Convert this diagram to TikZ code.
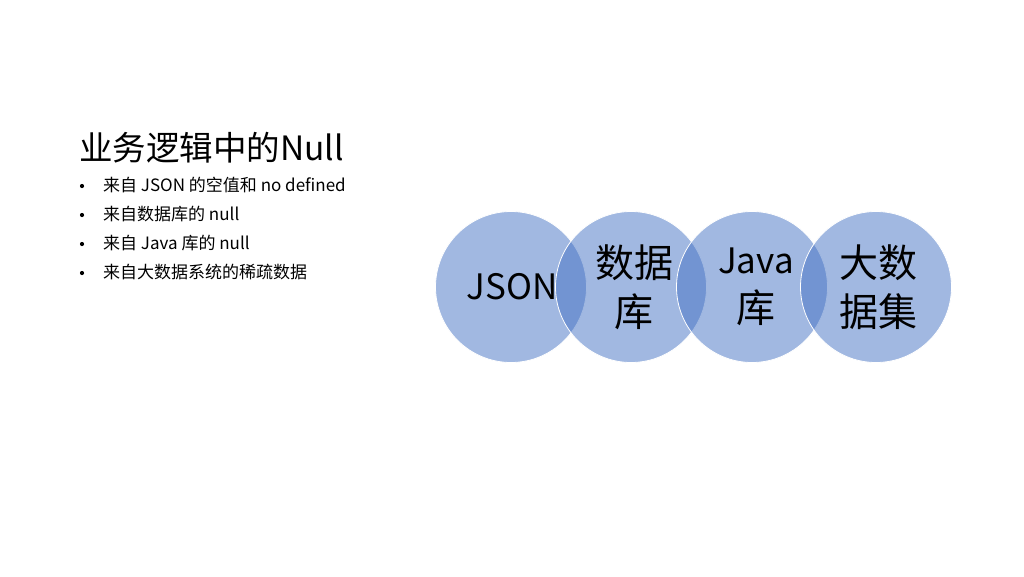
\documentclass[tikz,border=0pt]{standalone}
\usepackage{fontspec}
\setmainfont{Noto Sans CJK SC}
\newfontfamily\cjk{Noto Sans CJK SC}
\definecolor{circblue}{HTML}{4472C4}
\begin{document}
\begin{tikzpicture}[x=1pt,y=-1pt,
  bubble/.style={fill=circblue, fill opacity=0.5, draw=white, line width=0.8pt},
  ctext/.style={font=\fontsize{39}{49}\selectfont\cjk, align=center, text=black, inner sep=0pt},
  lat/.style={font=\fontsize{35}{49}\selectfont\cjk},
  bullet/.style={font=\fontsize{17}{20}\selectfont\cjk, anchor=base west, inner sep=0pt},
  dot/.style={circle, fill=black, inner sep=0pt, minimum size=4.2pt}]
\useasboundingbox (0,0) rectangle (1024,576);
\fill[white] (0,0) rectangle (1024,576);
% circles
\path[bubble] (511,287) circle (75.5);
\path[bubble] (631,287) circle (75.5);
\path[bubble] (752,287) circle (75.5);
\path[bubble] (876,287) circle (75.5);
\node[ctext, lat] (c1) at (512,287) {JSON};
\node[ctext] (c2) at (634,287) {数据\\库};
\node[ctext] (c3) at (756,287) {{\fontsize{35}{49}\selectfont Java}\\库};
\node[ctext] (c4) at (878,287) {大数\\据集};
% title
\node[font=\fontsize{33.5}{38}\selectfont\cjk, anchor=base west, inner sep=0pt] (title) at (79,160) {业务逻辑中的Null};
% bullets
\node[dot] (d1) at (82,186) {};
\node[dot] (d2) at (82,215) {};
\node[dot] (d3) at (82,244) {};
\node[dot] (d4) at (82,273) {};
\node[bullet] (b1) at (103,191) {来自 JSON 的空值和 no defined};
\node[bullet] (b2) at (103,220) {来自数据库的 null};
\node[bullet] (b3) at (103,249) {来自 Java 库的 null};
\node[bullet] (b4) at (103,278) {来自大数据系统的稀疏数据};
\end{tikzpicture}
\end{document}
